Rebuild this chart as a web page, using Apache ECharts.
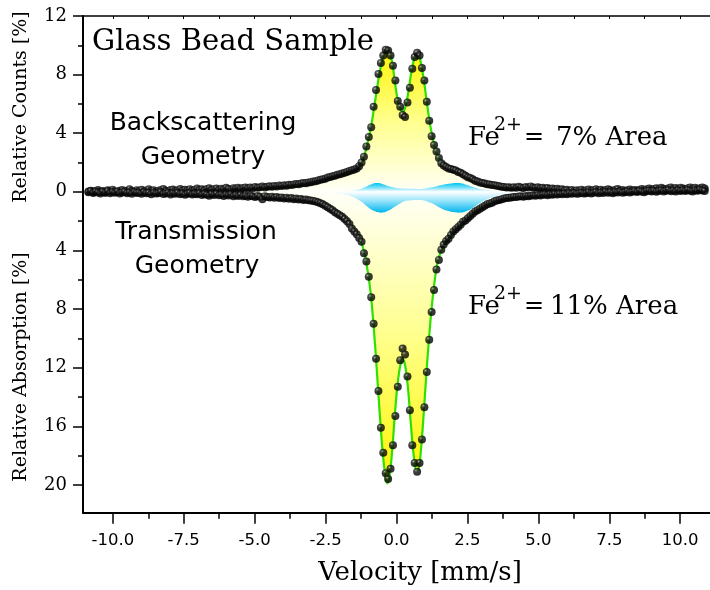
<!DOCTYPE html>
<html>
<head>
<meta charset="utf-8">
<title>Glass Bead Sample</title>
<script src="https://cdn.jsdelivr.net/npm/echarts@6/dist/echarts.min.js"></script>
<style>
  html, body { margin: 0; padding: 0; background: #fff; }
  #chart { width: 710px; height: 590px; }
</style>
</head>
<body>
<div id="chart"></div>
<script>
// Velocity calibration of the spectrometer channels (mm/s)
const V0 = -10.86;
const DV = 0.0852;

// Backscattering spectrum, relative counts [%], channels 0-99, 100-160, 161-255
const bsLeft = [0.02, 0.08, -0.03, 0.05, 0.12, 0.0, 0.06, -0.05, 0.1, 0.04, 0.15, 0.03, -0.02, 0.08, 0.12, 0.01, 0.07, 0.18, 0.05, 0.0, 0.1,
  0.06, 0.14, 0.02, 0.09, 0.17, 0.05, 0.11, 0.0, 0.08, 0.13, 0.2, 0.07, 0.04, 0.12, 0.16, 0.06, 0.1, 0.19, 0.09, 0.14,
  0.11, 0.18, 0.08, 0.15, 0.22, 0.12, 0.17, 0.1, 0.2, 0.25, 0.14, 0.18, 0.23, 0.13, 0.21, 0.17, 0.27, 0.2, 0.15, 0.24,
  0.22, 0.28, 0.19, 0.26, 0.3, 0.23, 0.29, 0.25, 0.33, 0.27, 0.31, 0.36, 0.29, 0.34, 0.38,
  0.35, 0.4, 0.37, 0.43, 0.4, 0.45, 0.42, 0.48, 0.46, 0.5, 0.53, 0.51, 0.56, 0.6, 0.58, 0.63, 0.66,
  0.7, 0.73, 0.78, 0.82, 0.86, 0.9, 0.97];
const bsCenter = [1.02, 1.06, 1.1, 1.16, 1.2, 1.25, 1.3, 1.36, 1.42, 1.47, 1.52, 1.6,
  1.75, 2.0, 2.4, 3.1, 3.75, 4.4, 5.8, 6.95, 8.05, 8.8, 9.3, 9.7, 9.65, 9.3, 8.6, 7.6, 6.2, 5.8, 5.25, 5.1,
  6.1, 7.1, 8.4, 9.2, 9.5, 9.3, 8.45, 7.6, 6.15, 4.85, 3.8, 3.2, 2.75, 2.3, 1.95, 1.8, 1.7, 1.6, 1.55, 1.5,
  1.45, 1.35, 1.3, 1.2, 1.1, 1.0, 0.95, 0.85, 0.75];
const bsRight = [0.7, 0.64, 0.6, 0.56, 0.52, 0.5, 0.46, 0.45, 0.42, 0.38, 0.35, 0.33, 0.3, 0.32, 0.28,
  0.32, 0.28, 0.35, 0.3, 0.26, 0.33, 0.29, 0.37, 0.3, 0.27,
  0.31, 0.24, 0.28, 0.22, 0.26, 0.19, 0.23, 0.17, 0.21, 0.15,
  0.18, 0.1, 0.14, 0.06, 0.12, 0.04, 0.1, 0.08, 0.15, 0.05,
  0.11, 0.16, 0.07, 0.13, 0.18, 0.09, 0.14, 0.05, 0.12, 0.17,
  0.1, 0.06, 0.14, 0.19, 0.08, 0.12, 0.04, 0.11, 0.16, 0.09,
  0.13, 0.07, 0.15, 0.2, 0.1, 0.17, 0.22, 0.14, 0.19, 0.25,
  0.18, 0.27, 0.21, 0.16, 0.24, 0.3, 0.2, 0.26, 0.19, 0.28,
  0.23, 0.17, 0.25, 0.3, 0.21, 0.27, 0.18, 0.24, 0.29, 0.22];

// Transmission spectrum, relative absorption [%] plotted downwards, channels 0-99, 100-172, 173-255
const trLeft = [-0.03, 0.05, -0.08, 0.02, -0.05, -0.12, 0.0, -0.06, 0.04, -0.1, -0.02, -0.07, 0.03, -0.11, -0.04, 0.01, -0.09, -0.05, -0.13, -0.02, -0.08,
  -0.06, -0.14, -0.03, -0.1, -0.07, -0.16, -0.05, -0.12, -0.09, -0.02, -0.15, -0.11, -0.06, -0.18, -0.1, -0.13, -0.07, -0.16, -0.12, -0.2,
  -0.14, -0.09, -0.19, -0.13, -0.17, -0.11, -0.22, -0.15, -0.2, -0.26, -0.16, -0.21, -0.14, -0.24, -0.19, -0.28, -0.2, -0.25, -0.18, -0.3,
  -0.24, -0.29, -0.22, -0.31, -0.26, -0.34, -0.27, -0.3, -0.36, -0.28, -0.33, -0.5, -0.3, -0.35, -0.38,
  -0.33, -0.4, -0.36, -0.42, -0.38, -0.45, -0.4, -0.47, -0.43, -0.5, -0.46, -0.52, -0.49, -0.56, -0.53, -0.58, -0.6,
  -0.62, -0.66, -0.72, -0.78, -0.85, -0.95, -1.05];
const trCenter = [-1.15, -1.25, -1.4, -1.5, -1.6, -1.7, -1.85, -2.0, -2.2, -2.5, -2.7, -2.9,
  -3.15, -3.4, -4.2, -4.75, -5.8, -7.2, -9.0, -11.4, -13.6, -16.1, -17.8, -19.2, -19.6, -18.9, -17.3, -15.3,
  -13.3, -11.5, -10.7, -11.1, -12.6, -14.9, -17.3, -18.5, -19.1, -18.5, -16.9, -14.7, -12.3, -10.1, -8.2,
  -6.7, -5.3, -4.65, -3.96, -3.6, -3.35, -3.2, -2.95, -2.7, -2.55, -2.4, -2.25, -2.05, -1.95, -1.8, -1.65,
  -1.5, -1.35, -1.25, -1.15, -1.05, -0.95, -0.85, -0.8, -0.75, -0.65, -0.6, -0.55, -0.5, -0.45];
const trRight = [-0.42, -0.4, -0.38, -0.35, -0.36, -0.32, -0.3, -0.33, -0.28, -0.3, -0.26, -0.24, -0.27,
  -0.22, -0.25, -0.2, -0.18, -0.23, -0.17, -0.2, -0.15, -0.19, -0.14,
  -0.17, -0.12, -0.16, -0.1, -0.14, -0.08, -0.13, -0.11, -0.06, -0.12,
  -0.09, -0.04, -0.11, -0.07, -0.02, -0.1, -0.05, -0.08, 0.0, -0.06,
  -0.03, -0.09, -0.01, -0.05, 0.02, -0.07, -0.03, 0.03, -0.04, 0.0,
  0.04, -0.02, 0.06, 0.01, -0.03, 0.05, 0.08, 0.02, 0.07, 0.0,
  0.05, 0.1, 0.03, 0.08, 0.12, 0.04, 0.09, 0.02, 0.11, 0.06,
  0.1, 0.05, 0.13, 0.08, 0.03, 0.11, 0.07, 0.14, 0.09, 0.05];

// Fitted envelopes (mm/s, %)
const fitVelocity = [-10.86, -9, -7, -6, -5, -4, -3.5, -3, -2.5, -2, -1.75, -1.5, -1.35, -1.2, -1.1, -1.0, -0.9, -0.8, -0.7, -0.6,
  -0.5, -0.4, -0.33, -0.25, -0.15, -0.05, 0.05, 0.15, 0.22, 0.3, 0.4, 0.5, 0.6, 0.7, 0.78, 0.85, 0.95, 1.05, 1.15, 1.25,
  1.35, 1.45, 1.6, 1.8, 2.0, 2.2, 2.5, 3.0, 3.5, 4, 5, 6, 7, 8, 9, 10, 10.86];
const bsFit = [0.03, 0.06, 0.12, 0.17, 0.25, 0.38, 0.48, 0.65, 0.9, 1.18, 1.38, 1.55, 1.75, 2.1, 2.7, 3.5, 4.4, 5.6, 6.9, 8.1,
  9.0, 9.6, 9.75, 9.55, 8.8, 7.4, 6.2, 5.6, 5.5, 5.7, 6.6, 7.9, 8.9, 9.4, 9.35, 8.9, 7.8, 6.4, 5.0, 3.9,
  3.0, 2.45, 2.0, 1.72, 1.55, 1.38, 1.05, 0.62, 0.45, 0.35, 0.22, 0.16, 0.12, 0.1, 0.08, 0.07, 0.06];
const trFit = [-0.04, -0.07, -0.13, -0.18, -0.26, -0.38, -0.46, -0.6, -0.95, -1.55, -1.95, -2.55, -3.0, -3.7, -4.5, -5.6, -7.1, -9.3, -12.0, -14.9,
  -17.5, -19.3, -19.9, -19.5, -17.6, -15.0, -12.9, -11.7, -11.4, -11.8, -13.3, -15.7, -17.9, -19.0, -18.9, -17.9, -15.4, -12.5, -9.9, -7.7,
  -6.0, -4.8, -3.9, -3.3, -2.85, -2.45, -1.85, -1.05, -0.65, -0.42, -0.24, -0.16, -0.12, -0.09, -0.07, -0.06, -0.05];

// Fe2+ doublet subspectra
const fe2BsVelocity = [-2.0, -1.6, -1.3, -1.1, -0.9, -0.67, -0.45, -0.2, 0.2, 0.75, 1.2, 1.55, 1.85, 2.15, 2.4, 2.7, 3.0, 3.4, 3.8];
const fe2Bs = [0.03, 0.08, 0.18, 0.33, 0.5, 0.6, 0.5, 0.34, 0.22, 0.2, 0.3, 0.45, 0.55, 0.6, 0.52, 0.33, 0.18, 0.08, 0.03];
const fe2TrVelocity = [-2.4, -2.0, -1.6, -1.3, -1.0, -0.8, -0.55, -0.3, 0.0, 0.4, 0.8, 1.2, 1.5, 1.8, 2.2, 2.5, 2.8, 3.1, 3.5, 4.0, 4.4];
const fe2Tr = [-0.05, -0.12, -0.3, -0.6, -1.05, -1.3, -1.42, -1.3, -0.95, -0.6, -0.55, -0.75, -1.05, -1.3, -1.42, -1.3, -0.95, -0.6, -0.3, -0.12, -0.05];

// Axis ticks
const xMajorTicks = [-10, -7.5, -5, -2.5, 0, 2.5, 5, 7.5, 10];
const xMinorTicks = [-8.75, -6.25, -3.75, -1.25, 1.25, 3.75, 6.25, 8.75];
const yMajorTicks = [-20, -16, -12, -8, -4, 0, 4, 8, 12];
const yMinorTicks = [-18, -14, -10, -6, -2, 2, 6, 10];

const X_MIN = -11.05, X_MAX = 11.05, Y_MIN = -21.9, Y_MAX = 12;

function channelPoints(startChannel, values) {
  return values.map((y, k) => [+(V0 + DV * (startChannel + k)).toFixed(4), y]);
}
function zip(xs, ys) { return xs.map((x, i) => [x, ys[i]]); }

const bsPoints = channelPoints(0, bsLeft).concat(channelPoints(100, bsCenter), channelPoints(161, bsRight));
const trPoints = channelPoints(0, trLeft).concat(channelPoints(100, trCenter), channelPoints(173, trRight));

const chart = echarts.init(document.getElementById('chart'), null, { renderer: 'canvas' });

// Shaded black bead with a small specular highlight
const bead = new echarts.graphic.RadialGradient(0.36, 0.32, 0.62, [
  { offset: 0, color: '#d4d4d4' },
  { offset: 0.14, color: '#5a5a5a' },
  { offset: 0.42, color: '#101010' },
  { offset: 1, color: '#000000' }
]);
const yellowUp = new echarts.graphic.LinearGradient(0, 0, 0, 1, [
  { offset: 0, color: '#fff500' },
  { offset: 0.5, color: '#ffff8c' },
  { offset: 1, color: '#fffff8' }
]);
const yellowDown = new echarts.graphic.LinearGradient(0, 0, 0, 1, [
  { offset: 0, color: '#fffff8' },
  { offset: 0.5, color: '#ffff8c' },
  { offset: 1, color: '#fff500' }
]);
const cyanUp = new echarts.graphic.LinearGradient(0, 0, 0, 1, [
  { offset: 0, color: '#00c4f2' },
  { offset: 0.55, color: '#80e2fa' },
  { offset: 1, color: '#ffffff' }
]);
const cyanDown = new echarts.graphic.LinearGradient(0, 0, 0, 1, [
  { offset: 0, color: '#ffffff' },
  { offset: 0.4, color: '#9fe6fb' },
  { offset: 1, color: '#00b6ee' }
]);

const axisColor = '#000';
const serif = '"DejaVu Serif", "Liberation Serif", serif';
const sans = '"DejaVu Sans", "Liberation Sans", sans-serif';

function baseAxis(extra) {
  return Object.assign({
    type: 'value', min: X_MIN, max: X_MAX, gridIndex: 0,
    splitLine: { show: false },
    axisLine: { onZero: false, lineStyle: { color: axisColor, width: 2 } }
  }, extra);
}

const option = {
  animation: false,
  backgroundColor: '#ffffff',
  grid: { left: 83, top: 16, right: -9.5, bottom: 77.3, containLabel: false },
  xAxis: [
    baseAxis({
      position: 'bottom',
      axisTick: { customValues: xMajorTicks, length: 11, lineStyle: { color: axisColor, width: 1.5 } },
      axisLabel: { customValues: xMajorTicks, formatter: v => v.toFixed(1), fontFamily: sans, fontSize: 16.5, color: '#000', margin: 20 }
    }),
    baseAxis({
      position: 'bottom',
      axisLine: { show: false, onZero: false },
      axisTick: { customValues: xMinorTicks, length: 6, lineStyle: { color: axisColor, width: 1.5 } },
      axisLabel: { show: false }
    }),
    baseAxis({
      position: 'top',
      axisLine: { onZero: false, lineStyle: { color: axisColor, width: 1.5 } },
      axisTick: { inside: true, customValues: xMajorTicks.concat(xMinorTicks), length: 3, lineStyle: { color: axisColor, width: 1 } },
      axisLabel: { show: false }
    })
  ],
  yAxis: [
    {
      type: 'value', min: Y_MIN, max: Y_MAX, position: 'left',
      splitLine: { show: false },
      axisLine: { onZero: false, lineStyle: { color: axisColor, width: 2 } },
      axisTick: { customValues: yMajorTicks, length: 10, lineStyle: { color: axisColor, width: 1.5 } },
      axisLabel: { customValues: yMajorTicks, formatter: v => String(Math.abs(v)), fontFamily: serif, fontSize: 18, color: '#000', margin: 16 }
    },
    {
      type: 'value', min: Y_MIN, max: Y_MAX, position: 'left',
      splitLine: { show: false },
      axisLine: { show: false, onZero: false },
      axisTick: { customValues: yMinorTicks, length: 5, lineStyle: { color: axisColor, width: 1.5 } },
      axisLabel: { show: false }
    }
  ],
  series: [
    {
      name: 'Backscattering envelope', type: 'line', data: zip(fitVelocity, bsFit), smooth: 0.35,
      showSymbol: false, silent: true, lineStyle: { opacity: 0 }, areaStyle: { color: yellowUp, opacity: 1 }, z: 1
    },
    {
      name: 'Transmission envelope', type: 'line', data: zip(fitVelocity, trFit), smooth: 0.35,
      showSymbol: false, silent: true, lineStyle: { opacity: 0 }, areaStyle: { color: yellowDown, opacity: 1 }, z: 1
    },
    {
      name: 'Fe2+ backscattering', type: 'line', data: zip(fe2BsVelocity, fe2Bs), smooth: 0.5,
      showSymbol: false, silent: true, lineStyle: { opacity: 0 }, areaStyle: { color: cyanUp, opacity: 1 }, z: 2
    },
    {
      name: 'Fe2+ transmission', type: 'line', data: zip(fe2TrVelocity, fe2Tr), smooth: 0.5,
      showSymbol: false, silent: true, lineStyle: { opacity: 0 }, areaStyle: { color: cyanDown, opacity: 1 }, z: 2
    },
    {
      name: 'Backscattering fit', type: 'line', data: zip(fitVelocity, bsFit), smooth: 0.35,
      showSymbol: false, silent: true, lineStyle: { color: '#2fe000', width: 2.2 }, z: 3
    },
    {
      name: 'Transmission fit', type: 'line', data: zip(fitVelocity, trFit), smooth: 0.35,
      showSymbol: false, silent: true, lineStyle: { color: '#2fe000', width: 2.2 }, z: 3
    },
    {
      name: 'Backscattering data', type: 'scatter', data: bsPoints, symbolSize: 8,
      itemStyle: { color: bead }, silent: true, z: 4
    },
    {
      name: 'Transmission data', type: 'scatter', data: trPoints, symbolSize: 8,
      itemStyle: { color: bead }, silent: true, z: 4
    }
  ],
  graphic: [
    { type: 'text', x: 92, y: 42, style: { text: 'Glass Bead Sample', font: '29px ' + serif, fill: '#000', textAlign: 'left', textVerticalAlign: 'middle' } },
    { type: 'text', x: 203, y: 123, style: { text: 'Backscattering', font: '25px ' + sans, fill: '#000', textAlign: 'center', textVerticalAlign: 'middle' } },
    { type: 'text', x: 203, y: 157, style: { text: 'Geometry', font: '25px ' + sans, fill: '#000', textAlign: 'center', textVerticalAlign: 'middle' } },
    { type: 'text', x: 196, y: 232, style: { text: 'Transmission', font: '25px ' + sans, fill: '#000', textAlign: 'center', textVerticalAlign: 'middle' } },
    { type: 'text', x: 197, y: 266, style: { text: 'Geometry', font: '25px ' + sans, fill: '#000', textAlign: 'center', textVerticalAlign: 'middle' } },

    { type: 'text', x: 468, y: 138, style: { text: 'Fe', font: '26px ' + serif, fill: '#000', textAlign: 'left', textVerticalAlign: 'middle' } },
    { type: 'text', x: 494, y: 125, style: { text: '2+', font: '19px ' + serif, fill: '#000', textAlign: 'left', textVerticalAlign: 'middle' } },
    { type: 'text', x: 534, y: 138, style: { text: '=', font: '24px ' + serif, fill: '#000', textAlign: 'center', textVerticalAlign: 'middle' } },
    { type: 'text', x: 556, y: 138, style: { text: '7% Area', font: '26px ' + serif, fill: '#000', textAlign: 'left', textVerticalAlign: 'middle' } },

    { type: 'text', x: 468, y: 307, style: { text: 'Fe', font: '26px ' + serif, fill: '#000', textAlign: 'left', textVerticalAlign: 'middle' } },
    { type: 'text', x: 494, y: 294, style: { text: '2+', font: '19px ' + serif, fill: '#000', textAlign: 'left', textVerticalAlign: 'middle' } },
    { type: 'text', x: 534, y: 307, style: { text: '=', font: '24px ' + serif, fill: '#000', textAlign: 'center', textVerticalAlign: 'middle' } },
    { type: 'text', x: 550, y: 307, style: { text: '11% Area', font: '26px ' + serif, fill: '#000', textAlign: 'left', textVerticalAlign: 'middle' } },

    { type: 'text', x: 21, y: 107, rotation: Math.PI / 2, style: { text: 'Relative Counts [%]', font: '19px ' + serif, fill: '#000', textAlign: 'center', textVerticalAlign: 'middle' } },
    { type: 'text', x: 21, y: 367, rotation: Math.PI / 2, style: { text: 'Relative Absorption [%]', font: '19px ' + serif, fill: '#000', textAlign: 'center', textVerticalAlign: 'middle' } },
    { type: 'text', x: 420, y: 573, style: { text: 'Velocity [mm/s]', font: '26px ' + serif, fill: '#000', textAlign: 'center', textVerticalAlign: 'middle' } }
  ]
};

chart.setOption(option);
</script>
</body>
</html>
